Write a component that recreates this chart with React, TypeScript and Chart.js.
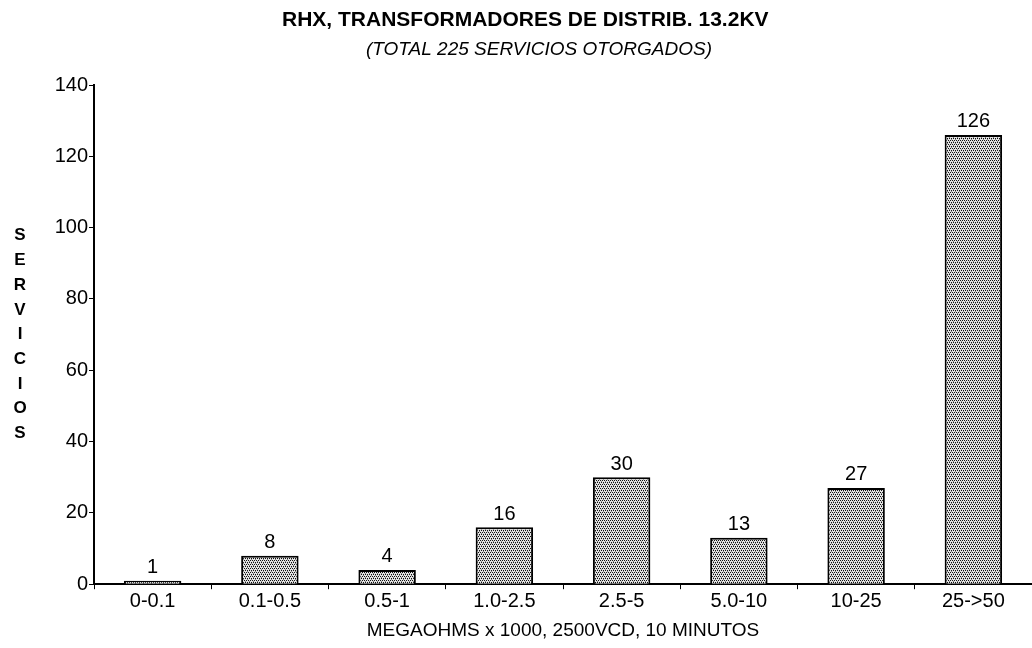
import React, { useEffect, useRef } from "react";
import { Chart, registerables } from "chart.js";

Chart.register(...registerables);

const categories = ["0-0.1", "0.1-0.5", "0.5-1", "1.0-2.5", "2.5-5", "5.0-10", "10-25", "25->50"];
const servicios = [1, 8, 4, 16, 30, 13, 27, 126];
const yMin = 0;
const yMax = 140;
const yStep = 20;
const titleText = "RHX, TRANSFORMADORES DE DISTRIB. 13.2KV";
const subtitleText = "(TOTAL 225 SERVICIOS OTORGADOS)";
const yTitleText = "SERVICIOS";
const xTitleText = "MEGAOHMS x 1000, 2500VCD, 10 MINUTOS";

const FONT = "'Liberation Sans', Arial, Helvetica, sans-serif";

function makePattern(): CanvasPattern | string {
  const c = document.createElement("canvas");
  c.width = 4;
  c.height = 4;
  const g = c.getContext("2d");
  if (!g) return "#aaa";
  g.fillStyle = "#e4e4e4";
  g.fillRect(0, 0, 4, 4);
  g.fillStyle = "#111";
  g.fillRect(0, 0, 1, 1);
  g.fillRect(2, 0, 1, 1);
  g.fillRect(1, 2, 1, 1);
  g.fillRect(3, 2, 1, 1);
  g.fillStyle = "#888";
  g.fillRect(1, 1, 1, 1);
  g.fillRect(3, 3, 1, 1);
  const p = g.createPattern(c, "repeat");
  return p || "#aaa";
}

const decorPlugin = {
  id: "decor",
  afterDatasetsDraw(chart: any) {
    const ctx = chart.ctx;
    const meta = chart.getDatasetMeta(0);
    ctx.save();
    ctx.fillStyle = "#000";
    ctx.font = `20px ${FONT}`;
    ctx.textAlign = "center";
    ctx.textBaseline = "bottom";
    meta.data.forEach((bar: any, i: number) => {
      ctx.fillText(String(servicios[i]), bar.x, bar.y - 3);
    });
    ctx.restore();
  },
  afterDraw(chart: any) {
    const ctx = chart.ctx;
    const area = chart.chartArea;
    ctx.save();
    ctx.fillStyle = "#000";
    ctx.textBaseline = "middle";
    ctx.textAlign = "left";
    ctx.font = `bold 21px ${FONT}`;
    ctx.fillText(titleText, 282, 20);
    ctx.font = `italic 19px ${FONT}`;
    ctx.fillText(subtitleText, 366, 50);
    ctx.textAlign = "center";
    ctx.font = `bold 17px ${FONT}`;
    const letters = yTitleText.split("");
    const spacing = 24.7;
    const cy = (area.top + area.bottom) / 2;
    const start = cy - ((letters.length - 1) * spacing) / 2;
    letters.forEach((l, i) => {
      ctx.fillText(l, 20, start + i * spacing);
    });
    ctx.restore();
  },
};

export default function App() {
  const ref = useRef<HTMLCanvasElement | null>(null);
  useEffect(() => {
    if (!ref.current) return;
    const chart = new Chart(ref.current, {
      type: "bar",
      data: {
        labels: categories,
        datasets: [
          {
            data: servicios,
            backgroundColor: makePattern() as any,
            borderColor: "#000",
            borderWidth: 2,
            borderSkipped: "bottom",
            categoryPercentage: 1,
            barPercentage: 0.49,
          },
        ],
      },
      options: {
        animation: false,
        responsive: true,
        maintainAspectRatio: false,
        layout: { padding: { top: 85, right: 0, bottom: 6, left: 0 } },
        plugins: {
          legend: { display: false },
          title: { display: false },
          tooltip: { enabled: false },
        },
        scales: {
          x: {
            offset: true,
            grid: {
              offset: true,
              display: true,
              drawOnChartArea: false,
              drawTicks: true,
              tickLength: 5,
              color: "#000",
            },
            border: { display: true, color: "#000", width: 2 },
            ticks: {
              color: "#000",
              font: { family: FONT, size: 20 },
              padding: 0,
              maxRotation: 0,
              autoSkip: false,
            },
            title: {
              display: true,
              text: xTitleText,
              color: "#000",
              font: { family: FONT, size: 19 },
              padding: { top: 6, bottom: 0 },
            },
          },
          y: {
            min: yMin,
            max: yMax,
            afterFit(scale: any) {
              scale.width = 94;
            },
            grid: {
              display: true,
              drawOnChartArea: false,
              drawTicks: true,
              tickLength: 5,
              color: "#000",
            },
            border: { display: true, color: "#000", width: 2 },
            ticks: {
              stepSize: yStep,
              color: "#000",
              font: { family: FONT, size: 20 },
              padding: 1,
            },
          },
        },
      },
      plugins: [decorPlugin],
    });
    return () => chart.destroy();
  }, []);
  return (
    <div style={{ position: "fixed", left: 0, top: 0, width: 1032, height: 648, background: "#fff" }}>
      <canvas ref={ref} />
    </div>
  );
}
